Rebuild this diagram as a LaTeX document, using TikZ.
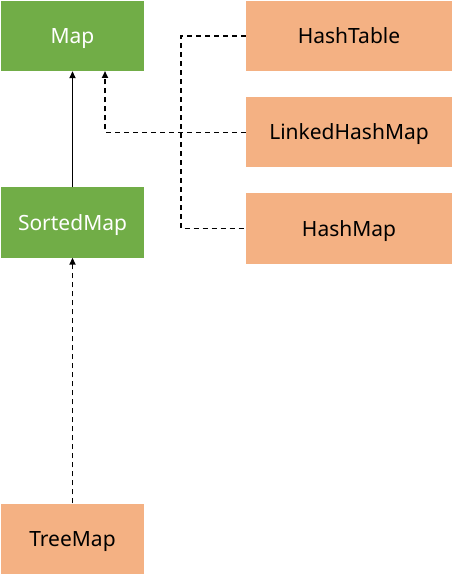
\documentclass[tikz,border=0pt]{standalone}
\usepackage{fontspec}
\setmainfont{Noto Sans}
\usetikzlibrary{arrows.meta}
\definecolor{grn}{HTML}{71AD47}
\definecolor{org}{HTML}{F4B183}
\begin{document}
\begin{tikzpicture}[x=1pt,y=-1pt,
  box/.style={rectangle,inner sep=0pt,font=\fontsize{21}{24}\selectfont,text height=15pt,text depth=0pt},
  gbox/.style={box,fill=grn,text=white,minimum width=143pt,minimum height=70pt},
  obox/.style={box,fill=org,text=black,minimum width=143pt,minimum height=70pt},
  wbox/.style={box,fill=org,text=black,minimum width=206pt,minimum height=70pt},
  conn/.style={line width=1.7pt},
  dconn/.style={conn,dash pattern=on 5pt off 4pt},
  tip/.style={-{Triangle[length=7pt,width=6pt]}}]
\useasboundingbox (0,0) rectangle (455,577);
\node[gbox] (Map) at (72.5,36) {Map};
\node[gbox] (SortedMap) at (72.5,222.5) {SortedMap};
\node[obox] (TreeMap) at (72.5,538.5) {TreeMap};
\node[wbox] (HashTable) at (349,36) {HashTable};
\node[wbox] (LinkedHashMap) at (349,132.5) {LinkedHashMap};
\node[wbox] (HashMap) at (349,228.5) {HashMap};
\coordinate (mt) at (105,71);
\coordinate (bx) at (181,0);
\draw[conn,tip] (SortedMap) -- (Map);
\draw[dconn,tip] (TreeMap) -- (SortedMap);
\draw[dconn,tip] (LinkedHashMap.west) -| (mt);
\draw[dconn] (HashTable.west) -- (HashTable.west -| bx) |- (HashMap.west);
\end{tikzpicture}
\end{document}
